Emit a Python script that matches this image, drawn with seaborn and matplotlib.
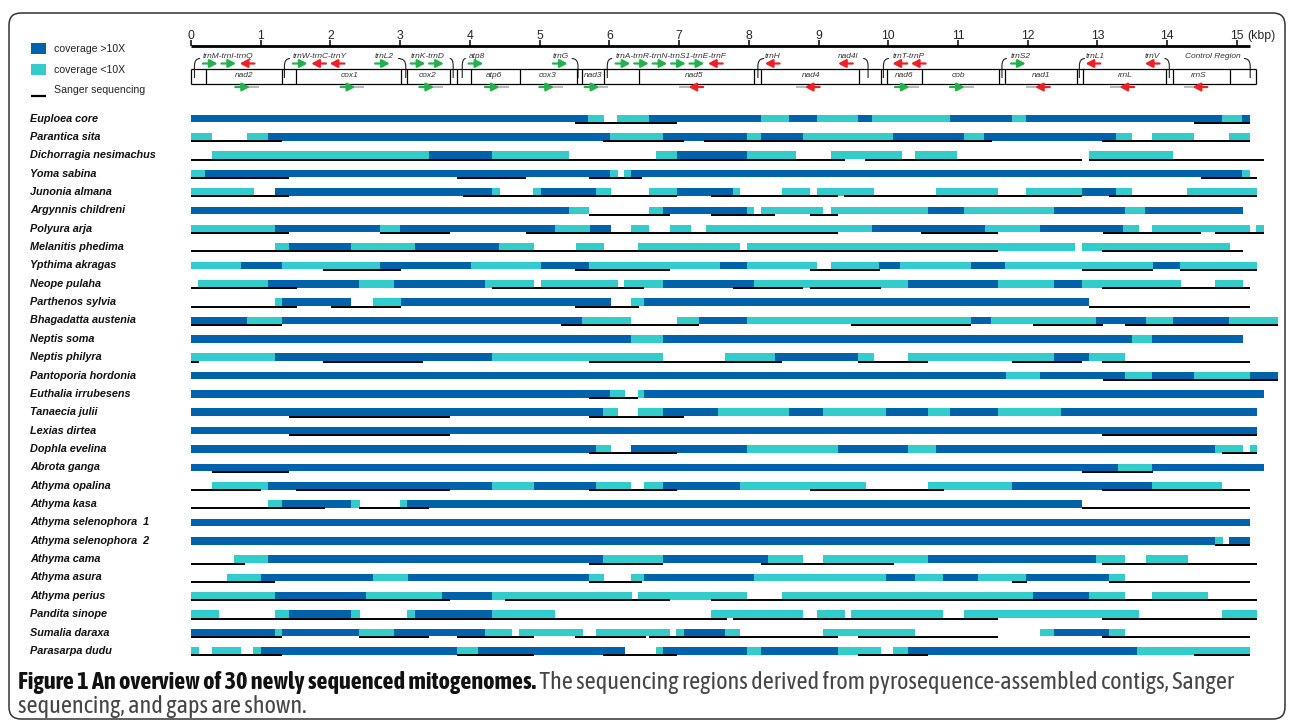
import matplotlib
matplotlib.use('Agg')
import matplotlib.pyplot as plt
from matplotlib import font_manager
from matplotlib.patches import FancyBboxPatch, Rectangle, PathPatch
from matplotlib.path import Path
import seaborn as sns
import pandas as pd

# ---- data (positions in kbp) ----
species = ['Euploea core', 'Parantica sita', 'Dichorragia nesimachus', 'Yoma sabina',
           'Junonia almana', 'Argynnis childreni', 'Polyura arja', 'Melanitis phedima',
           'Ypthima akragas', 'Neope pulaha', 'Parthenos sylvia', 'Bhagadatta austenia',
           'Neptis soma', 'Neptis philyra', 'Pantoporia hordonia', 'Euthalia irrubesens',
           'Tanaecia julii', 'Lexias dirtea', 'Dophla evelina', 'Abrota ganga',
           'Athyma opalina', 'Athyma kasa', 'Athyma selenophora  1', 'Athyma selenophora  2',
           'Athyma cama', 'Athyma asura', 'Athyma perius', 'Pandita sinope',
           'Sumalia daraxa', 'Parasarpa dudu']

high_cov = [
    [(0, 5.70), (6.57, 8.17), (8.57, 8.98), (9.56, 9.77), (10.88, 11.78), (11.97, 14.79), (15.07, 15.18)],
    [(1.11, 6.01), (6.77, 7.97), (8.17, 8.78), (10.07, 11.08), (11.37, 13.27)],
    [(3.42, 4.31), (6.97, 7.97)],
    [(0.20, 6.01), (6.31, 15.07)],
    [(1.21, 4.31), (5.02, 5.81), (6.97, 7.77), (12.78, 13.27)],
    [(0, 5.42), (6.77, 7.97), (10.57, 11.08), (12.38, 13.39), (13.68, 15.09)],
    [(1.20, 2.71), (3.00, 5.22), (5.72, 6.03), (9.77, 11.38), (12.18, 13.37)],
    [(1.40, 2.30), (3.21, 4.41)],
    [(0.71, 1.30), (2.71, 4.01), (5.02, 5.71), (7.58, 7.97), (9.87, 10.17), (11.18, 11.67), (13.79, 14.18)],
    [(1.11, 2.41), (2.91, 4.21), (6.77, 8.07), (10.28, 11.58), (12.38, 12.78)],
    [(1.30, 2.30), (3.01, 6.03), (6.49, 12.88)],
    [(0, 0.80), (1.30, 5.61), (7.28, 7.97), (11.18, 11.47), (12.98, 13.69), (14.08, 14.89)],
    [(0, 6.31), (6.77, 13.49), (13.78, 15.09)],
    [(1.21, 4.31), (8.37, 9.56), (12.38, 12.88)],
    [(0, 11.69), (12.18, 13.39), (13.78, 14.38), (15.19, 15.59)],
    [(0, 6.01), (6.50, 15.39)],
    [(0, 5.91), (6.77, 7.56), (8.57, 9.07), (9.97, 10.57), (10.88, 11.57), (12.48, 15.29)],
    [(0, 15.29)],
    [(0, 5.81), (6.31, 7.97), (9.28, 10.28), (10.68, 14.69)],
    [(0, 13.29), (13.78, 15.39)],
    [(1.11, 4.31), (4.92, 5.81), (6.77, 7.87), (11.78, 13.78)],
    [(1.30, 2.30), (3.10, 12.78)],
    [(0, 15.19)],
    [(0, 14.69), (14.89, 15.19)],
    [(1.11, 5.91), (6.77, 8.27), (10.57, 12.98)],
    [(1.01, 2.61), (3.11, 5.71), (6.49, 8.07), (9.97, 10.38), (10.78, 11.29), (11.97, 13.17)],
    [(1.20, 2.51), (3.60, 4.31), (12.07, 12.88)],
    [(1.40, 2.30), (3.21, 4.31)],
    [(0, 1.20), (1.30, 2.41), (2.91, 4.21), (7.07, 7.66), (12.38, 13.17)],
    [(1.01, 3.81), (4.11, 6.22), (6.77, 7.97), (8.17, 9.28), (10.28, 13.57)],
]

low_cov = [
    [(5.70, 5.93), (6.11, 6.57), (8.17, 8.57), (8.98, 9.56), (9.77, 10.88), (11.78, 11.97), (14.79, 15.07)],
    [(0, 0.30), (0.80, 1.11), (6.01, 6.77), (7.97, 8.17), (8.78, 10.07), (11.08, 11.37), (13.27, 13.49),
     (13.78, 14.38), (14.89, 15.19)],
    [(0.30, 3.42), (4.31, 5.42), (6.67, 6.97), (7.97, 8.67), (9.18, 10.19), (10.38, 10.98), (12.88, 14.09)],
    [(0, 0.20), (6.01, 6.13), (6.21, 6.31), (15.07, 15.19)],
    [(0, 0.91), (4.31, 4.43), (4.91, 5.02), (5.81, 6.03), (6.57, 6.97), (7.77, 7.88), (8.47, 8.88),
     (8.98, 9.79), (10.68, 11.58), (11.97, 12.78), (13.27, 13.49), (14.28, 15.29)],
    [(5.42, 5.71), (6.57, 6.77), (7.97, 8.08), (8.17, 9.07), (9.18, 10.57), (11.08, 12.38), (13.39, 13.68)],
    [(0, 1.20), (2.71, 3.00), (5.22, 5.72), (6.31, 6.57), (6.87, 7.17), (7.38, 9.77), (11.38, 12.18),
     (13.37, 13.59), (13.78, 15.19), (15.28, 15.39)],
    [(1.20, 1.40), (2.30, 3.21), (4.41, 4.92), (5.52, 5.93), (6.41, 7.88), (7.97, 12.68), (12.78, 14.90)],
    [(0, 0.71), (1.30, 2.71), (4.01, 5.02), (5.71, 7.58), (7.97, 8.98), (9.18, 9.87), (10.17, 11.18),
     (11.67, 13.79), (14.18, 15.29)],
    [(0.10, 1.11), (2.41, 2.91), (4.21, 4.92), (5.02, 6.13), (6.21, 6.77), (8.07, 10.28), (11.58, 12.38),
     (12.78, 14.20), (14.69, 15.09)],
    [(1.20, 1.30), (2.61, 3.01), (6.31, 6.49)],
    [(0.80, 1.30), (5.61, 6.31), (6.97, 7.28), (7.97, 11.18), (11.47, 12.98), (13.69, 14.08), (14.89, 15.59)],
    [(6.31, 6.77), (13.49, 13.78)],
    [(0, 1.21), (4.31, 6.77), (7.66, 8.37), (9.56, 9.79), (10.28, 12.38), (12.88, 13.39)],
    [(11.69, 12.18), (13.39, 13.78), (14.38, 15.19)],
    [(6.01, 6.22), (6.41, 6.50)],
    [(5.91, 6.13), (6.41, 6.77), (7.56, 8.57), (9.07, 9.97), (10.57, 10.88), (11.57, 12.48)],
    [],
    [(5.81, 6.03), (7.97, 9.28), (10.28, 10.68), (14.69, 15.09), (15.18, 15.29)],
    [(13.29, 13.78)],
    [(0.30, 1.11), (4.31, 4.92), (5.81, 6.31), (6.50, 6.77), (7.87, 9.68), (10.57, 11.78), (13.78, 14.79)],
    [(1.10, 1.30), (2.30, 2.42), (3.00, 3.10)],
    [],
    [(14.69, 14.80)],
    [(0.61, 1.11), (5.91, 6.77), (8.27, 8.78), (9.07, 10.57), (12.98, 13.39), (13.69, 14.30)],
    [(0.51, 1.01), (2.61, 3.11), (5.71, 5.93), (6.31, 6.49), (8.07, 9.97), (10.38, 10.78), (11.29, 11.97),
     (13.17, 13.39)],
    [(0, 1.20), (2.51, 3.60), (4.31, 6.33), (6.41, 7.98), (8.47, 12.07), (12.88, 13.39), (13.78, 14.58)],
    [(0, 0.40), (1.20, 1.40), (2.30, 2.42), (3.10, 3.21), (4.31, 5.22), (7.46, 8.78), (8.98, 9.38),
     (9.47, 10.78), (11.08, 13.59), (14.79, 15.29)],
    [(1.20, 1.30), (2.41, 2.91), (4.21, 4.61), (4.71, 5.62), (5.81, 6.87), (6.96, 7.07), (7.66, 7.88),
     (9.07, 10.39), (12.18, 12.38), (13.17, 13.39)],
    [(0, 0.12), (0.30, 0.71), (0.89, 1.01), (3.81, 4.11), (6.67, 6.77), (7.97, 8.17), (9.28, 9.89),
     (10.07, 10.28), (13.57, 15.19)],
]

sanger = [
    [(5.50, 6.97), (14.38, 15.18)],
    [(0, 1.31), (5.91, 7.07), (7.36, 11.48), (13.07, 15.19)],
    [(0, 9.38), (9.67, 12.78), (12.88, 15.39)],
    [(0, 1.41), (3.81, 4.81), (5.71, 6.47), (14.48, 15.29)],
    [(0, 1.41), (3.90, 6.97), (7.46, 9.28), (9.37, 12.78), (13.17, 15.29)],
    [(5.71, 6.87), (7.46, 8.37), (8.88, 9.28)],
    [(0, 1.41), (2.71, 3.71), (4.81, 9.28), (10.47, 11.58), (13.08, 14.49), (14.69, 15.39)],
    [(0, 11.58), (13.07, 15.09)],
    [(1.90, 3.01), (5.51, 6.87), (8.88, 9.88), (12.78, 13.79), (14.18, 15.29)],
    [(0, 1.52), (4.31, 6.50), (7.77, 8.78), (8.88, 9.89), (13.07, 15.19)],
    [(0, 1.52), (2.01, 3.01), (5.51, 6.42), (12.88, 15.19)],
    [(0, 1.31), (5.30, 7.28), (9.47, 11.18), (12.07, 13.08), (13.39, 15.59)],
    [],
    [(0, 0.12), (1.90, 3.32), (5.71, 8.47), (9.56, 10.57), (11.78, 12.78), (13.07, 15.19)],
    [(13.08, 15.59)],
    [(5.71, 6.41)],
    [(1.41, 3.71), (5.71, 7.07)],
    [(1.41, 3.71), (13.07, 15.29)],
    [(5.71, 6.97), (14.79, 15.29)],
    [(0.30, 1.41), (12.78, 13.79)],
    [(0, 1.01), (1.50, 3.71), (5.71, 6.97), (8.88, 10.80), (13.07, 15.19)],
    [(0, 1.92), (2.41, 3.42), (12.78, 15.19)],
    [],
    [(14.69, 15.19)],
    [(0, 0.78), (5.71, 6.77), (8.17, 10.08), (13.07, 15.29)],
    [(0, 1.21), (5.71, 6.47), (11.78, 11.99), (13.17, 15.19)],
    [(0, 3.71), (4.51, 6.87), (7.46, 15.29)],
    [(0, 7.68), (7.77, 11.58), (13.07, 15.29)],
    [(0, 1.31), (2.41, 3.42), (3.81, 4.92), (5.51, 6.52), (6.57, 9.28), (9.56, 11.58), (13.07, 15.19)],
    [(0, 1.31), (3.81, 4.92), (5.91, 6.97), (9.56, 10.57), (14.38, 15.19)],
]

# gene map
kb_ticks = list(range(16))
gene_bounds = [0, 0.21, 1.31, 1.50, 3.01, 3.10, 3.71, 3.82, 4.01, 4.72, 5.53, 5.61, 5.92, 6.43,
               8.08, 8.17, 9.58, 9.89, 9.98, 10.48, 11.59, 11.68, 12.70, 12.79, 13.98, 14.09, 14.90, 15.28]
box_genes = ['nad2', 'cox1', 'cox2', 'atp6', 'cox3', 'nad3', 'nad5', 'nad4', 'nad6', 'cob', 'nad1', 'rrnL', 'rrnS']
box_gene_pos = [0.76, 2.27, 3.40, 4.34, 5.12, 5.77, 7.22, 8.89, 10.22, 11.01, 12.19, 13.40, 14.45]
box_gene_strand = ['+', '+', '+', '+', '+', '+', '-', '-', '+', '+', '-', '-', '-']
top_labels = ['trnM-trnI-trnQ', 'trnW-trnC-trnY', 'trnL2', 'trnK-trnD', 'atp8', 'trnG',
              'trnA-trnR-trnN-trnS1-trnE-trnF', 'trnH', 'nad4l', 'trnT-trnP', 'trnS2', 'trnL1',
              'trnV', 'Control Region']
top_label_x = [0.17, 1.46, 2.64, 3.15, 3.98, 5.19, 6.09, 8.23, 9.28, 10.06, 11.76, 12.83, 13.68, 14.26]
top_strands = ['++-', '+--', '+', '++', '+', '+', '+++++-', '-', '-', '--', '+', '-', '-', '']
bracket_top = [0.13, 1.42, 2.97, 3.71, 3.94, 5.46, 6.04, 8.22, 9.64, 10.01, 11.70, 12.82, 13.96, 15.10]
bracket_bot = [0.05, 1.34, 3.08, 3.76, 3.89, 5.55, 5.97, 8.13, 9.71, 9.93, 11.63, 12.74, 14.03, 15.19]

# ---- style ----
sns.set_theme(style='white')
plt.rcParams['font.family'] = ['Liberation Sans', 'DejaVu Sans']
DARK, CYAN = '#0062ab', '#33cccc'
GREEN, RED, GREY = '#22b24c', '#ee2024', '#b4b4b4'

fig = plt.figure(figsize=(12.9, 7.25), dpi=100)
fig.patch.set_facecolor('white')

# main axes: x in kbp, y in pixels from the top
X0, KB = 191, 69.73
ax = fig.add_axes([0, 0, 1, 1])
ax.set_xlim(-X0 / KB, (1290 - X0) / KB)
ax.set_ylim(725, 0)
ax.axis('off')


def px(x):
    return (x - X0) / KB


ROW0, ROWH, BAR_H = 118.5, 18.36, 7.6
row_y = [ROW0 + ROWH * i for i in range(len(species))]

seg = pd.DataFrame([(i, s, e, lvl)
                    for lvl, data in (('high', high_cov), ('low', low_cov))
                    for i, segs in enumerate(data) for s, e in segs],
                   columns=['row', 'start', 'end', 'level'])
seg['y'] = ROW0 + ROWH * seg['row']
for lvl, col in (('high', DARK), ('low', CYAN)):
    d = seg[seg['level'] == lvl]
    ax.barh(d['y'], d['end'] - d['start'], left=d['start'], height=BAR_H,
            color=col, linewidth=0, zorder=2)

sg = pd.DataFrame([(i, s, e) for i, segs in enumerate(sanger) for s, e in segs],
                  columns=['row', 'start', 'end'])
ax.hlines(ROW0 + ROWH * sg['row'] + BAR_H / 2 + 0.6, sg['start'], sg['end'],
          color='black', lw=1.4, zorder=3)

for y, name in zip(row_y, species):
    ax.text(px(30), y, name, ha='left', va='center', fontsize=7.8,
            fontweight='bold', fontstyle='italic', color='#111111')

# ---- kbp scale ----
ax.hlines(46, 0, 15.18, color='black', lw=2.0)
ax.vlines(kb_ticks, 39.5, 46, color='black', lw=1.1)
for k in kb_ticks:
    ax.text(k, 35.5, str(k), ha='center', va='center', fontsize=8.8)
ax.text(px(1247), 35.5, '(kbp)', ha='left', va='center', fontsize=8.8)

# ---- gene box ----
BOX_T, BOX_B = 69, 84
ax.hlines([BOX_T, BOX_B], 0, gene_bounds[-1], color='black', lw=0.9)
ax.vlines(gene_bounds, BOX_T, BOX_B, color='black', lw=0.9)
for g, x in zip(box_genes, box_gene_pos):
    ax.text(x, 75.5, g, ha='center', va='center', fontsize=6.0, fontstyle='italic', color='#333333')


def arrow(x0, x1, y, col):
    ax.annotate('', xy=(x1, y), xytext=(x0, y),
                arrowprops=dict(arrowstyle='-|>,head_length=0.45,head_width=0.24',
                                mutation_scale=10, lw=1.6, color=col,
                                shrinkA=0, shrinkB=0))


ALEN = 0.21
for x, st in zip(box_gene_pos, box_gene_strand):
    a0, a1 = x - ALEN / 2 - 0.02, x + ALEN / 2 - 0.02
    if st == '+':
        ax.hlines(87, a1 - 0.03, a1 + 0.13, color=GREY, lw=1.3)
        arrow(a0, a1, 87, GREEN)
    else:
        a0, a1 = a0 + 0.04, a1 + 0.04
        ax.hlines(87, a0 - 0.13, a0 + 0.03, color=GREY, lw=1.3)
        arrow(a1, a0, 87, RED)

for lab, x, st in zip(top_labels, top_label_x, top_strands):
    ax.text(x, 56.5, lab, ha='left', va='center', fontsize=6.0, fontstyle='italic', color='#333333')
    for i, s in enumerate(st):
        a0 = x + i * 0.265
        if s == '+':
            arrow(a0, a0 + ALEN, 63.5, GREEN)
        else:
            arrow(a0 + ALEN, a0, 63.5, RED)

for xt, xb in zip(bracket_top, bracket_bot):
    path = Path([(xt, 58.5), (xb, 58.5), (xb, 66), (xb, 78)],
                [Path.MOVETO, Path.CURVE3, Path.CURVE3, Path.LINETO])
    ax.add_patch(PathPatch(path, fill=False, lw=0.8, color='#222222'))

# ---- overlay in pixel coords: frame, legend, caption ----
ov = fig.add_axes([0, 0, 1, 1], facecolor='none')
ov.set_xlim(0, 1290)
ov.set_ylim(725, 0)
ov.axis('off')

ov.add_patch(FancyBboxPatch((9, 13), 1276, 706, boxstyle='round,pad=0,rounding_size=12',
                            fill=False, lw=1.1, ec='#333333'))

ov.add_patch(Rectangle((31, 43), 15, 10.5, color=DARK, lw=0))
ov.add_patch(Rectangle((31, 64), 15, 10.5, color=CYAN, lw=0))
ov.hlines(95.5, 31, 46, color='black', lw=1.6)
ov.text(54, 48.5, 'coverage >10X', ha='left', va='center', fontsize=7.6, color='#222222')
ov.text(54, 69.5, 'coverage <10X', ha='left', va='center', fontsize=7.6, color='#222222')
ov.text(54, 90, 'Sanger sequencing', ha='left', va='center', fontsize=7.6, color='#222222')


# caption: a narrow face that also has a bold weight, else Liberation Sans
def _wt(w):
    return w if isinstance(w, (int, float)) else font_manager.weight_dict.get(w, 400)


fl = font_manager.fontManager.ttflist
narrow_bold = sorted({f.name for f in fl
                      if ('Narrow' in f.name or 'Condensed' in f.name) and _wt(f.weight) >= 600})
cap_font = narrow_bold[0] if narrow_bold else 'Liberation Sans'
cap_bold = 'Figure 1 An overview of 30 newly sequenced mitogenomes.'
cap_rest = ' The sequencing regions derived from pyrosequence-assembled contigs, Sanger'
cap_line2 = 'sequencing, and gaps are shown.'

# font size that makes line 1 span the frame width
fs = 12.0
fig.canvas.draw()
r = fig.canvas.get_renderer()
for _ in range(4):
    t1 = ov.text(0, 0, cap_bold, fontsize=fs, fontweight='bold', family=cap_font)
    t2 = ov.text(0, 0, cap_rest, fontsize=fs, family=cap_font)
    total = t1.get_window_extent(r).width + t2.get_window_extent(r).width
    t1.remove()
    t2.remove()
    fs *= 1258 / total
fs = min(fs, 17.5)

t1 = ov.text(18, 683, cap_bold, fontsize=fs, fontweight='bold', family=cap_font,
             ha='left', va='center', color='#111111')
w1 = t1.get_window_extent(r).width
ov.text(18 + w1, 683, cap_rest, fontsize=fs, family=cap_font,
        ha='left', va='center', color='#454545')
ov.text(18, 706, cap_line2, fontsize=fs, family=cap_font, ha='left', va='center', color='#454545')

fig.savefig('out.png', dpi=100, facecolor='white')
